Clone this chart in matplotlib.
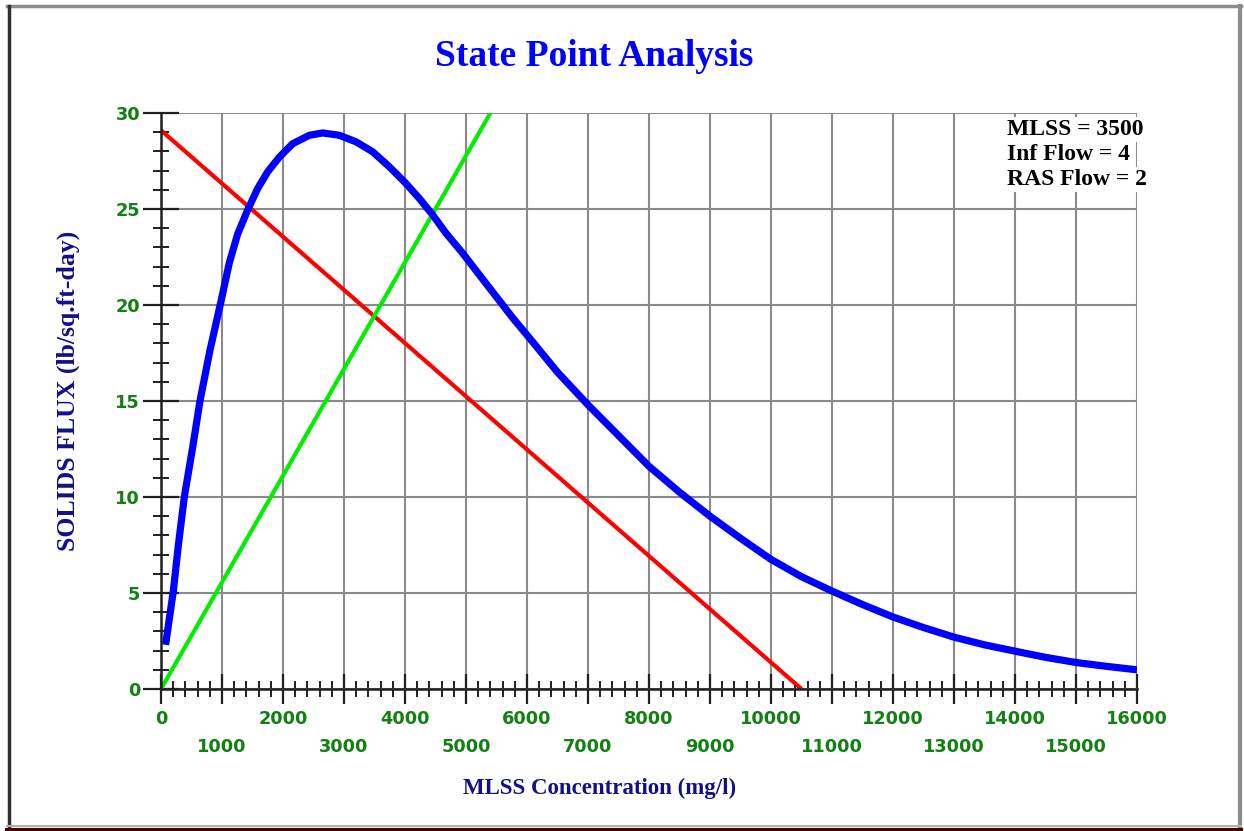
import numpy as np
import matplotlib
matplotlib.use('Agg')
from matplotlib import pyplot as plt
from matplotlib.lines import Line2D
from matplotlib.ticker import MultipleLocator

# solids flux curve (blue)
flux_x = [75, 202, 285, 382, 520, 639, 800, 984, 1120, 1257, 1421, 1585, 1749, 1940,
          2158, 2432, 2650, 2923, 3197, 3470, 3743, 4016, 4235, 4454, 4672, 4945,
          5219, 5492, 5765, 6038, 6500, 7000, 7500, 8000, 8500, 9000, 9500, 10000,
          10500, 11000, 11500, 12000, 12500, 13000, 13500, 14000, 14500, 15000,
          15500, 16000]
flux_y = [2.3, 5.1, 7.5, 10.0, 12.6, 15.0, 17.6, 20.2, 22.2, 23.7, 24.95, 26.07, 26.94, 27.7,
          28.4, 28.84, 28.96, 28.84, 28.5, 27.98, 27.2, 26.33, 25.55, 24.69, 23.74, 22.7,
          21.57, 20.45, 19.33, 18.29, 16.5, 14.8, 13.2, 11.6, 10.25, 9.0, 7.85, 6.75,
          5.85, 5.1, 4.4, 3.75, 3.2, 2.7, 2.3, 1.97, 1.65, 1.38, 1.18, 1.0]

# state point line (red) and underflow line (green)
sp_x = [0, 10500]
sp_y = [29.1, 0]
uf_x = [0, 5400]
uf_y = [0, 30]

info_lines = ['MLSS = 3500', 'Inf Flow = 4', 'RAS Flow = 2']
xticks = list(range(0, 16001, 1000))
yticks = [0, 5, 10, 15, 20, 25, 30]

title_col = '#0000ff'
label_col = '#101088'
tick_col = '#128012'

fig = plt.figure(figsize=(12.44, 8.31), dpi=100)
fig.patch.set_facecolor('white')
ax = fig.add_axes([161/1244, 1-689/831, 976/1244, 576/831])

ax.grid(True, color='#8a8a8a', linewidth=1.5, zorder=0)
ax.set_axisbelow(True)

ax.plot(sp_x, sp_y, color='#ff0000', linewidth=3, zorder=3, solid_capstyle='butt')
ax.plot(uf_x, uf_y, color='#00ee00', linewidth=3, zorder=3, solid_capstyle='butt')
ax.plot(flux_x, flux_y, color='#0000ff', linewidth=5.2, zorder=4, solid_capstyle='butt',
        solid_joinstyle='round')

ax.set_xlim(0, 16000)
ax.set_ylim(0, 30)
ax.set_xticks(xticks)
ax.set_xticklabels([str(v) if (v // 1000) % 2 == 0 else '\n' + str(v) for v in xticks])
ax.set_yticks(yticks)
ax.xaxis.set_minor_locator(MultipleLocator(200))
ax.yaxis.set_minor_locator(MultipleLocator(1))

ax.tick_params(axis='x', which='major', direction='inout', length=22, width=1.6,
               color='#202020', pad=4, labelsize=12.8, labelcolor=tick_col)
ax.tick_params(axis='x', which='minor', direction='inout', length=11, width=1.4, color='#202020')
ax.tick_params(axis='y', which='major', direction='inout', length=26, width=1.6,
               color='#202020', pad=2, labelsize=12.8, labelcolor=tick_col)
ax.tick_params(axis='y', which='minor', direction='inout', length=11, width=1.4, color='#202020')

for lab in ax.get_xticklabels() + ax.get_yticklabels():
    lab.set_fontweight('bold')
    lab.set_family('DejaVu Sans')
for lab in ax.get_xticklabels():
    lab.set_linespacing(1.7)

for s in ['top', 'right']:
    ax.spines[s].set_visible(False)
for s in ['left', 'bottom']:
    ax.spines[s].set_color('#202020')
    ax.spines[s].set_linewidth(1.8)
    ax.spines[s].set_zorder(5)

# info box at top right
ys = [0.9618, 0.9184, 0.875]
for txt, yy in zip(info_lines, ys):
    ax.text(0.8668, yy, txt, transform=ax.transAxes, ha='left', va='baseline',
            fontsize=17, fontweight='bold', family='Liberation Serif', color='black',
            zorder=6, clip_on=False,
            bbox=dict(boxstyle='square,pad=0.1', facecolor='white', edgecolor='none'))

fig.text(594/1244, 1-57/831, 'State Point Analysis', ha='center', va='center',
         fontsize=27, fontweight='bold', family='Liberation Serif', color=title_col)
fig.text(600/1244, 1-788/831, 'MLSS Concentration (mg/l)', ha='center', va='center',
         fontsize=16.5, fontweight='bold', family='Liberation Serif', color=label_col)
fig.text(68/1244, 1-391/831, 'SOLIDS FLUX (lb/sq.ft-day)', ha='center', va='center',
         rotation=90, fontsize=18.5, fontweight='bold', family='Liberation Serif', color=label_col)

# window frame
fig.add_artist(Line2D([7/1244, 1241/1244], [1-6/831, 1-6/831], color='#8c8c8c', linewidth=2.5))
fig.add_artist(Line2D([1240/1244, 1240/1244], [1-6/831, 1-827/831], color='#8c8c8c', linewidth=3))
fig.add_artist(Line2D([8.5/1244, 8.5/1244], [1-6/831, 1-829/831], color='#303030', linewidth=2.5))
fig.add_artist(Line2D([7/1244, 1241/1244], [1-826/831, 1-826/831], color='#b0b0b0', linewidth=1.5))
fig.add_artist(Line2D([7/1244, 1241/1244], [1-829.5/831, 1-829.5/831], color='#4a0000', linewidth=3))

fig.savefig('out.png', dpi=100)
